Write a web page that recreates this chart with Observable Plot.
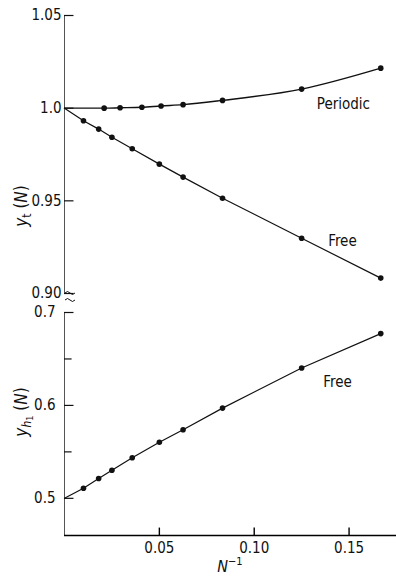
<!DOCTYPE html>
<html>
<head>
<meta charset="utf-8">
<script src="https://cdn.jsdelivr.net/npm/d3@7"></script>
<script src="https://cdn.jsdelivr.net/npm/@observablehq/plot@0.6"></script>
<style>
  html, body { margin: 0; padding: 0; background: #fff; }
  #chart { width: 396px; height: 578px; position: relative; }
  #chart svg { display: block; }
</style>
</head>
<body>
<div id="chart"></div>
<script>
// ---- data ----
const invN = [0.0100, 0.0180, 0.0250, 0.0357, 0.0500, 0.0625, 0.0833, 0.1250, 0.1667];
const ytFree = [0.9932, 0.9887, 0.9843, 0.9781, 0.9698, 0.9628, 0.9514, 0.9298, 0.9083];
const yh1Free = [0.5108, 0.5213, 0.5302, 0.5436, 0.5604, 0.5738, 0.5971, 0.6402, 0.6773];
const invNPeriodic = [0.0209, 0.0293, 0.0408, 0.0509, 0.0625, 0.0833, 0.1250, 0.1667];
const ytPeriodic = [1.0000, 1.0002, 1.0005, 1.0012, 1.0019, 1.0042, 1.0103, 1.0216];
const ytLimit = 1.0;      // N^-1 -> 0
const yh1Limit = 0.5;     // N^-1 -> 0

const xDomain = [0, 0.175];
const xTicks = [0.05, 0.10, 0.15];
const xTickLabels = ["0.05", "0.10", "0.15"];
const topDomain = [0.90, 1.05];
const topTicks = [0.90, 0.95, 1.0, 1.05];
const topTickLabels = ["0.90", "0.95", "1.0", "1.05"];
const botDomain = [0.46, 0.70];
const botTicks = [0.5, 0.6, 0.7];
const botTickLabels = ["0.5", "0.6", "0.7"];
const botMinorTicks = [0.55, 0.65];

const seriesLabels = [
  {panel: "top", text: "Periodic", x: 0.133, y: 1.002},
  {panel: "top", text: "Free", x: 0.139, y: 0.928},
  {panel: "bottom", text: "Free", x: 0.1364, y: 0.6247}
];

// ---- tables ----
const freeTop = invN.map((x, i) => ({x, y: ytFree[i]}));
const freeTopLine = [{x: 0, y: ytLimit}, ...freeTop];
const periodic = invNPeriodic.map((x, i) => ({x, y: ytPeriodic[i]}));
const periodicLine = [{x: 0, y: ytLimit}, ...periodic];
const freeBot = invN.map((x, i) => ({x, y: yh1Free[i]}));
const freeBotLine = [{x: 0, y: yh1Limit}, ...freeBot];

const FONT = "'DejaVu Sans Condensed', 'Liberation Sans Narrow', 'DejaVu Sans', sans-serif";
const style = {fontFamily: FONT, fontSize: "15px", color: "#111", background: "#fff"};
const INK = "#111";
const tickLenTop = 0.005;   // in x data units (inward ticks)

const topPlot = Plot.plot({
  width: 396, height: 302,
  marginLeft: 64, marginRight: 0, marginTop: 15, marginBottom: 9,
  x: {domain: xDomain, axis: null},
  y: {domain: topDomain, axis: null},
  style,
  marks: [
    Plot.ruleX([0], {y1: topDomain[0], y2: topDomain[1], stroke: "#555", strokeWidth: 1}),
    Plot.ruleY(topTicks, {x1: 0, x2: tickLenTop, stroke: INK, strokeWidth: 1.2}),
    Plot.text(topTicks, {x: 0, y: d => d, text: (d, i) => topTickLabels[i], textAnchor: "end", dx: -3, fill: INK}),
    Plot.line(periodicLine, {x: "x", y: "y", stroke: INK, strokeWidth: 1.4, curve: "monotone-x"}),
    Plot.line(freeTopLine, {x: "x", y: "y", stroke: INK, strokeWidth: 1.2}),
    Plot.dot(periodic, {x: "x", y: "y", r: 2.8, fill: INK, stroke: "none"}),
    Plot.dot(freeTop, {x: "x", y: "y", r: 2.8, fill: INK, stroke: "none"}),
    Plot.text(seriesLabels.filter(d => d.panel === "top"), {x: "x", y: "y", text: "text", textAnchor: "start", fill: INK})
  ]
});

const botPlot = Plot.plot({
  width: 396, height: 276,
  marginLeft: 64, marginRight: 0, marginTop: 10, marginBottom: 43,
  x: {domain: xDomain, axis: null},
  y: {domain: botDomain, axis: null},
  style,
  marks: [
    Plot.ruleX([0], {y1: botDomain[0], y2: botDomain[1], stroke: "#555", strokeWidth: 1}),
    Plot.ruleY([botDomain[0]], {x1: xDomain[0], x2: xDomain[1], stroke: "#000", strokeWidth: 1.6}),
    Plot.ruleY(botTicks, {x1: 0, x2: tickLenTop, stroke: INK, strokeWidth: 1.2}),
    Plot.ruleY(botMinorTicks, {x1: 0, x2: tickLenTop * 0.8, stroke: INK, strokeWidth: 1.2}),
    Plot.text(botTicks, {x: 0, y: d => d, text: (d, i) => botTickLabels[i], textAnchor: "end", dx: -9, fill: INK}),
    Plot.ruleX(xTicks, {y1: botDomain[0], y2: botDomain[0] + 0.008, stroke: "#000", strokeWidth: 1.4}),
    Plot.text(xTicks, {x: d => d, y: botDomain[0], text: (d, i) => xTickLabels[i], dy: 13, fill: INK}),
    Plot.line(freeBotLine, {x: "x", y: "y", stroke: INK, strokeWidth: 1.2}),
    Plot.dot(freeBot, {x: "x", y: "y", r: 2.8, fill: INK, stroke: "none"}),
    Plot.text(seriesLabels.filter(d => d.panel === "bottom"), {x: "x", y: "y", text: "text", textAnchor: "start", fill: INK})
  ]
});

const chart = document.getElementById("chart");
chart.appendChild(topPlot);
chart.appendChild(botPlot);

// axis titles (real text with sub/superscripts)
function yTitle(svg, x, y, sub1, sub2) {
  const t = d3.select(svg).append("text")
    .attr("transform", `translate(${x},${y}) rotate(-90)`)
    .attr("text-anchor", "middle")
    .attr("font-family", FONT)
    .attr("font-size", 17)
    .attr("fill", INK);
  t.append("tspan").attr("font-style", "italic").text("y");
  if (sub2) {
    t.append("tspan").attr("font-style", "italic").attr("font-size", 12).attr("dy", 4).text(sub1);
    t.append("tspan").attr("font-size", 9).attr("dy", 2).text(sub2);
    t.append("tspan").attr("dy", -6).text(" (");
  } else {
    t.append("tspan").attr("font-size", 12).attr("dy", 4).text(sub1);
    t.append("tspan").attr("dy", -4).text(" (");
  }
  t.append("tspan").attr("font-style", "italic").text("N");
  t.append("tspan").text(")");
}
yTitle(topPlot, 27, 206, "t");
yTitle(botPlot, 27, 110, "h", "1");

// x axis title N^-1
const xt = d3.select(botPlot).append("text")
  .attr("x", 230).attr("y", 270)
  .attr("text-anchor", "middle")
  .attr("font-family", FONT).attr("font-size", 16).attr("fill", INK);
xt.append("tspan").attr("font-style", "italic").text("N");
xt.append("tspan").attr("font-size", 11).attr("dy", -7).text("\u22121");

// axis break marks
const brk = d3.select(topPlot).append("g").attr("fill", "none").attr("stroke", INK).attr("stroke-width", 1);
[293, 300].forEach(yy => {
  brk.append("path").attr("d", `M${65},${yy} q2.5,-3 5,0 t5,0`);
});
</script>
</body>
</html>
